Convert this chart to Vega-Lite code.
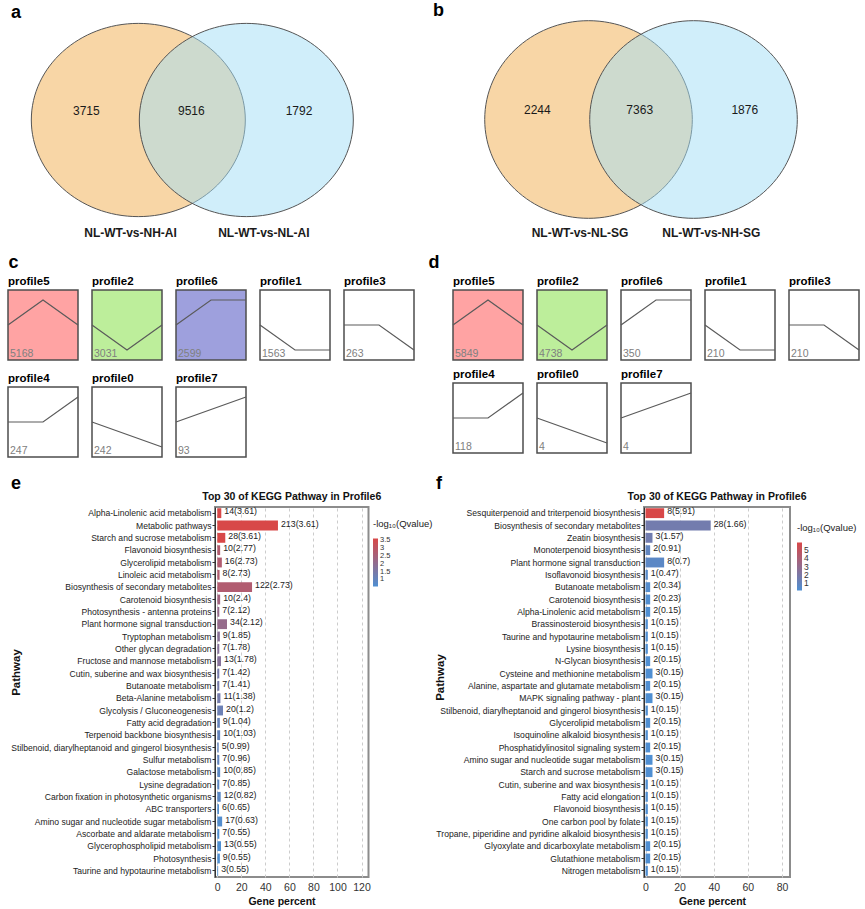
{
"$schema": "https://vega.github.io/schema/vega-lite/v6.json",
"padding": {"left": 5, "top": 1, "right": 0, "bottom": 0},
"background": "white",
"config": {"font": "Liberation Sans", "view": {"stroke": null}, "title": {"fontSize": 18, "fontWeight": "bold", "anchor": "start", "color": "#000000"}},
"resolve": {"scale": {"fill": "independent", "color": "independent"}},
"columns": 1,
"spacing": 16,
"concat": [
{"columns": 1, "spacing": 11, "resolve": {"scale": {"fill": "independent", "color": "independent"}},
 "concat": [
 {"spacing": 5, "resolve": {"scale": {"fill": "independent", "color": "independent"}},
  "hconcat": [
  {"title": {"text": "a", "dx": 3, "offset": -1},
   "width": 420, "height": 220,
   "data": {"values": [
    {"kind": "set", "g": "A", "x": 0, "y": 0},
    {"kind": "set", "g": "B", "x": 1, "y": 0},
    {"kind": "num", "x": -0.481, "y": 0.083, "t": "3715"},
    {"kind": "num", "x": 0.491, "y": 0.083, "t": "9516"},
    {"kind": "num", "x": 1.488, "y": 0.083, "t": "1792"},
    {"kind": "lab", "x": -0.072, "y": -1.046, "t": "NL-WT-vs-NH-AI"},
    {"kind": "lab", "x": 1.162, "y": -1.046, "t": "NL-WT-vs-NL-AI"}
   ]},
   "encoding": {
    "x": {"field": "x", "type": "quantitative", "scale": {"domain": [-1.2065, 2.682], "nice": false, "zero": false}, "axis": null},
    "y": {"field": "y", "type": "quantitative", "scale": {"domain": [-1.1296, 0.9074], "nice": false, "zero": false}, "axis": null}
   },
   "layer": [
    {"transform": [{"filter": "datum.kind === 'set'"}],
     "mark": {"type": "point", "shape": "M-1,0A1,0.903,0,1,1,1,0A1,0.903,0,1,1,-1,0Z", "size": 45796, "filled": true, "opacity": 1, "fillOpacity": 0.5, "stroke": "#555555", "strokeWidth": 1},
     "encoding": {"fill": {"field": "g", "type": "nominal", "scale": {"domain": ["A", "B"], "range": ["#f1ad4d", "#a1ddf5"]}, "legend": null}}},
    {"transform": [{"filter": "datum.kind === 'num'"}],
     "mark": {"type": "text", "fontSize": 12, "color": "#1a1a1a"},
     "encoding": {"text": {"field": "t", "type": "nominal"}}},
    {"transform": [{"filter": "datum.kind === 'lab'"}],
     "mark": {"type": "text", "fontSize": 12, "fontWeight": "bold", "color": "#1a1a1a"},
     "encoding": {"text": {"field": "t", "type": "nominal"}}}
   ]},
  {"title": {"text": "b", "dx": 0, "offset": -1},
   "width": 430, "height": 220,
   "data": {"values": [
    {"kind": "set", "g": "A", "x": 0, "y": 0},
    {"kind": "set", "g": "B", "x": 1, "y": 0},
    {"kind": "num", "x": -0.4876, "y": 0.0905, "t": "2244"},
    {"kind": "num", "x": 0.4876, "y": 0.0905, "t": "7363"},
    {"kind": "num", "x": 1.4876, "y": 0.0905, "t": "1876"},
    {"kind": "lab", "x": -0.081, "y": -1.079, "t": "NL-WT-vs-NL-SG"},
    {"kind": "lab", "x": 1.169, "y": -1.079, "t": "NL-WT-vs-NH-SG"}
   ]},
   "encoding": {
    "x": {"field": "x", "type": "quantitative", "scale": {"domain": [-1.481, 2.614], "nice": false, "zero": false}, "axis": null},
    "y": {"field": "y", "type": "quantitative", "scale": {"domain": [-1.1667, 0.9286], "nice": false, "zero": false}, "axis": null}
   },
   "layer": [
    {"transform": [{"filter": "datum.kind === 'set'"}],
     "mark": {"type": "point", "shape": "M-1,0A1,0.952,0,1,1,1,0A1,0.952,0,1,1,-1,0Z", "size": 43098, "filled": true, "opacity": 1, "fillOpacity": 0.5, "stroke": "#555555", "strokeWidth": 1},
     "encoding": {"fill": {"field": "g", "type": "nominal", "scale": {"domain": ["A", "B"], "range": ["#f1ad4d", "#a1ddf5"]}, "legend": null}}},
    {"transform": [{"filter": "datum.kind === 'num'"}],
     "mark": {"type": "text", "fontSize": 12, "color": "#1a1a1a"},
     "encoding": {"text": {"field": "t", "type": "nominal"}}},
    {"transform": [{"filter": "datum.kind === 'lab'"}],
     "mark": {"type": "text", "fontSize": 12, "fontWeight": "bold", "color": "#1a1a1a"},
     "encoding": {"text": {"field": "t", "type": "nominal"}}}
   ]}
  ]},
 {"spacing": 11, "resolve": {"scale": {"fill": "independent", "color": "independent"}},
  "hconcat": [
  {"title": {"text": "c", "dx": 3, "offset": 4},
   "data": {"values": [
    {"p": "profile5", "t": 0, "v": 0, "n": "5168", "r": 1}, {"p": "profile5", "t": 1, "v": 1, "n": "5168", "r": 1}, {"p": "profile5", "t": 2, "v": 0, "n": "5168", "r": 1},
    {"p": "profile2", "t": 0, "v": 0, "n": "3031", "r": 2}, {"p": "profile2", "t": 1, "v": -1, "n": "3031", "r": 2}, {"p": "profile2", "t": 2, "v": 0, "n": "3031", "r": 2},
    {"p": "profile6", "t": 0, "v": 0, "n": "2599", "r": 3}, {"p": "profile6", "t": 1, "v": 1, "n": "2599", "r": 3}, {"p": "profile6", "t": 2, "v": 1, "n": "2599", "r": 3},
    {"p": "profile1", "t": 0, "v": 0, "n": "1563", "r": 0}, {"p": "profile1", "t": 1, "v": -1, "n": "1563", "r": 0}, {"p": "profile1", "t": 2, "v": -1, "n": "1563", "r": 0},
    {"p": "profile3", "t": 0, "v": 0, "n": "263", "r": 0}, {"p": "profile3", "t": 1, "v": 0, "n": "263", "r": 0}, {"p": "profile3", "t": 2, "v": -1, "n": "263", "r": 0},
    {"p": "profile4", "t": 0, "v": 0, "n": "247", "r": 0}, {"p": "profile4", "t": 1, "v": 0, "n": "247", "r": 0}, {"p": "profile4", "t": 2, "v": 1, "n": "247", "r": 0},
    {"p": "profile0", "t": 0, "v": 0, "n": "242", "r": 0}, {"p": "profile0", "t": 1, "v": -0.5, "n": "242", "r": 0}, {"p": "profile0", "t": 2, "v": -1, "n": "242", "r": 0},
    {"p": "profile7", "t": 0, "v": 0, "n": "93", "r": 0}, {"p": "profile7", "t": 1, "v": 0.5, "n": "93", "r": 0}, {"p": "profile7", "t": 2, "v": 1, "n": "93", "r": 0}
   ]},
   "facet": {"field": "p", "type": "nominal", "title": null, "sort": ["profile5", "profile2", "profile6", "profile1", "profile3", "profile4", "profile0", "profile7"],
    "header": {"labelAnchor": "start", "labelFontSize": 11.5, "labelFontWeight": "bold", "labelColor": "#000000", "labelPadding": 2}},
   "columns": 5,
   "spacing": {"row": 11, "column": 8},
   "spec": {
    "width": 70, "height": 70,
    "layer": [
     {"transform": [{"filter": "datum.t === 0"}],
      "mark": {"type": "rect", "stroke": "#4d4d4d", "strokeWidth": 1.5},
      "encoding": {
       "x": {"datum": 0, "type": "quantitative", "scale": {"domain": [0, 2], "nice": false, "zero": false}, "axis": null},
       "x2": {"datum": 2},
       "y": {"datum": -1.4, "type": "quantitative", "scale": {"domain": [-1.4, 1.4], "nice": false, "zero": false}, "axis": null},
       "y2": {"datum": 1.4},
       "fill": {"field": "r", "type": "nominal", "scale": {"domain": [0, 1, 2, 3], "range": ["#ffffff", "#ffa3a3", "#bdee9b", "#9ea0dd"]}, "legend": null}}},
     {"mark": {"type": "line", "color": "#5a5a5a", "strokeWidth": 1.2},
      "encoding": {"x": {"field": "t", "type": "quantitative", "axis": null}, "y": {"field": "v", "type": "quantitative", "axis": null}}},
     {"transform": [{"filter": "datum.t === 0"}],
      "mark": {"type": "text", "align": "left", "baseline": "bottom", "dx": 2, "dy": -1, "fontSize": 10.5, "color": "#808080"},
      "encoding": {"x": {"datum": 0, "type": "quantitative"}, "y": {"datum": -1.4, "type": "quantitative"}, "text": {"field": "n", "type": "nominal"}}}
    ]}},
  {"title": {"text": "d", "dx": -22, "offset": 4},
   "data": {"values": [
    {"p": "profile5", "t": 0, "v": 0, "n": "5849", "r": 1}, {"p": "profile5", "t": 1, "v": 1, "n": "5849", "r": 1}, {"p": "profile5", "t": 2, "v": 0, "n": "5849", "r": 1},
    {"p": "profile2", "t": 0, "v": 0, "n": "4738", "r": 2}, {"p": "profile2", "t": 1, "v": -1, "n": "4738", "r": 2}, {"p": "profile2", "t": 2, "v": 0, "n": "4738", "r": 2},
    {"p": "profile6", "t": 0, "v": 0, "n": "350", "r": 0}, {"p": "profile6", "t": 1, "v": 1, "n": "350", "r": 0}, {"p": "profile6", "t": 2, "v": 1, "n": "350", "r": 0},
    {"p": "profile1", "t": 0, "v": 0, "n": "210", "r": 0}, {"p": "profile1", "t": 1, "v": -1, "n": "210", "r": 0}, {"p": "profile1", "t": 2, "v": -1, "n": "210", "r": 0},
    {"p": "profile3", "t": 0, "v": 0, "n": "210", "r": 0}, {"p": "profile3", "t": 1, "v": 0, "n": "210", "r": 0}, {"p": "profile3", "t": 2, "v": -1, "n": "210", "r": 0},
    {"p": "profile4", "t": 0, "v": 0, "n": "118", "r": 0}, {"p": "profile4", "t": 1, "v": 0, "n": "118", "r": 0}, {"p": "profile4", "t": 2, "v": 1, "n": "118", "r": 0},
    {"p": "profile0", "t": 0, "v": 0, "n": "4", "r": 0}, {"p": "profile0", "t": 1, "v": -0.5, "n": "4", "r": 0}, {"p": "profile0", "t": 2, "v": -1, "n": "4", "r": 0},
    {"p": "profile7", "t": 0, "v": 0, "n": "4", "r": 0}, {"p": "profile7", "t": 1, "v": 0.5, "n": "4", "r": 0}, {"p": "profile7", "t": 2, "v": 1, "n": "4", "r": 0}
   ]},
   "facet": {"field": "p", "type": "nominal", "title": null, "sort": ["profile5", "profile2", "profile6", "profile1", "profile3", "profile4", "profile0", "profile7"],
    "header": {"labelAnchor": "start", "labelFontSize": 11.5, "labelFontWeight": "bold", "labelColor": "#000000", "labelPadding": 2}},
   "columns": 5,
   "spacing": {"row": 7, "column": 8},
   "spec": {
    "width": 70, "height": 70,
    "layer": [
     {"transform": [{"filter": "datum.t === 0"}],
      "mark": {"type": "rect", "stroke": "#4d4d4d", "strokeWidth": 1.5},
      "encoding": {
       "x": {"datum": 0, "type": "quantitative", "scale": {"domain": [0, 2], "nice": false, "zero": false}, "axis": null},
       "x2": {"datum": 2},
       "y": {"datum": -1.4, "type": "quantitative", "scale": {"domain": [-1.4, 1.4], "nice": false, "zero": false}, "axis": null},
       "y2": {"datum": 1.4},
       "fill": {"field": "r", "type": "nominal", "scale": {"domain": [0, 1, 2, 3], "range": ["#ffffff", "#ffa3a3", "#bdee9b", "#9ea0dd"]}, "legend": null}}},
     {"mark": {"type": "line", "color": "#5a5a5a", "strokeWidth": 1.2},
      "encoding": {"x": {"field": "t", "type": "quantitative", "axis": null}, "y": {"field": "v", "type": "quantitative", "axis": null}}},
     {"transform": [{"filter": "datum.t === 0"}],
      "mark": {"type": "text", "align": "left", "baseline": "bottom", "dx": 2, "dy": -1, "fontSize": 10.5, "color": "#808080"},
      "encoding": {"x": {"datum": 0, "type": "quantitative"}, "y": {"datum": -1.4, "type": "quantitative"}, "text": {"field": "n", "type": "nominal"}}}
    ]}}
  ]}
 ]},
{"spacing": 0, "resolve": {"scale": {"fill": "independent", "color": "independent"}},
 "hconcat": [
 {"width": 1, "height": 1, "data": {"values": [{"z": 0}]}, "mark": {"type": "point", "size": 0, "opacity": 0}, "encoding": {}},
 {"title": {"text": "e", "dx": 2, "offset": -2},
  "vconcat": [
  {"title": {"text": "Top 30 of KEGG Pathway in Profile6", "fontSize": 10.5, "fontWeight": "bold", "anchor": "middle", "frame": "group", "offset": 5, "color": "#111111"},
   "width": 153.5, "height": 370,
   "view": {"stroke": "#8c8c8c", "strokeWidth": 2},
   "data": {"values": [
    {"pathway": "Alpha-Linolenic acid metabolism", "pct": 3.32, "q": 3.61, "lab": "14(3.61)"},
    {"pathway": "Metabolic pathways", "pct": 50.47, "q": 3.61, "lab": "213(3.61)"},
    {"pathway": "Starch and sucrose metabolism", "pct": 6.64, "q": 3.61, "lab": "28(3.61)"},
    {"pathway": "Flavonoid biosynthesis", "pct": 2.37, "q": 2.77, "lab": "10(2.77)"},
    {"pathway": "Glycerolipid metabolism", "pct": 3.79, "q": 2.73, "lab": "16(2.73)"},
    {"pathway": "Linoleic acid metabolism", "pct": 1.9, "q": 2.73, "lab": "8(2.73)"},
    {"pathway": "Biosynthesis of secondary metabolites", "pct": 28.91, "q": 2.73, "lab": "122(2.73)"},
    {"pathway": "Carotenoid biosynthesis", "pct": 2.37, "q": 2.4, "lab": "10(2.4)"},
    {"pathway": "Photosynthesis - antenna proteins", "pct": 1.66, "q": 2.12, "lab": "7(2.12)"},
    {"pathway": "Plant hormone signal transduction", "pct": 8.06, "q": 2.12, "lab": "34(2.12)"},
    {"pathway": "Tryptophan metabolism", "pct": 2.13, "q": 1.85, "lab": "9(1.85)"},
    {"pathway": "Other glycan degradation", "pct": 1.66, "q": 1.78, "lab": "7(1.78)"},
    {"pathway": "Fructose and mannose metabolism", "pct": 3.08, "q": 1.78, "lab": "13(1.78)"},
    {"pathway": "Cutin, suberine and wax biosynthesis", "pct": 1.66, "q": 1.42, "lab": "7(1.42)"},
    {"pathway": "Butanoate metabolism", "pct": 1.66, "q": 1.41, "lab": "7(1.41)"},
    {"pathway": "Beta-Alanine metabolism", "pct": 2.61, "q": 1.38, "lab": "11(1.38)"},
    {"pathway": "Glycolysis / Gluconeogenesis", "pct": 4.74, "q": 1.2, "lab": "20(1.2)"},
    {"pathway": "Fatty acid degradation", "pct": 2.13, "q": 1.04, "lab": "9(1.04)"},
    {"pathway": "Terpenoid backbone biosynthesis", "pct": 2.37, "q": 1.03, "lab": "10(1.03)"},
    {"pathway": "Stilbenoid, diarylheptanoid and gingerol biosynthesis", "pct": 1.18, "q": 0.99, "lab": "5(0.99)"},
    {"pathway": "Sulfur metabolism", "pct": 1.66, "q": 0.96, "lab": "7(0.96)"},
    {"pathway": "Galactose metabolism", "pct": 2.37, "q": 0.85, "lab": "10(0.85)"},
    {"pathway": "Lysine degradation", "pct": 1.66, "q": 0.85, "lab": "7(0.85)"},
    {"pathway": "Carbon fixation in photosynthetic organisms", "pct": 2.84, "q": 0.82, "lab": "12(0.82)"},
    {"pathway": "ABC transporters", "pct": 1.42, "q": 0.65, "lab": "6(0.65)"},
    {"pathway": "Amino sugar and nucleotide sugar metabolism", "pct": 4.03, "q": 0.63, "lab": "17(0.63)"},
    {"pathway": "Ascorbate and aldarate metabolism", "pct": 1.66, "q": 0.55, "lab": "7(0.55)"},
    {"pathway": "Glycerophospholipid metabolism", "pct": 3.08, "q": 0.55, "lab": "13(0.55)"},
    {"pathway": "Photosynthesis", "pct": 2.13, "q": 0.55, "lab": "9(0.55)"},
    {"pathway": "Taurine and hypotaurine metabolism", "pct": 0.71, "q": 0.55, "lab": "3(0.55)"}
   ]},
   "encoding": {
    "y": {"field": "pathway", "type": "nominal", "sort": null, "scale": {"paddingInner": 0.2, "paddingOuter": 0.1},
     "axis": {"title": "Pathway", "labelFontSize": 8.6, "labelColor": "#222222", "labelLimit": 400, "labelPadding": 1, "tickSize": 3, "tickColor": "#333333", "domainColor": "#333333", "titleFontSize": 11.5, "titleFontWeight": "bold", "titleColor": "#111111", "titleAngle": 270, "titleX": -199, "titleY": 165, "titleAlign": "center", "titleBaseline": "middle"}},
    "x": {"field": "pct", "type": "quantitative", "scale": {"domain": [-1.91, 125.8], "nice": false, "zero": false},
     "axis": {"values": [0, 20, 40, 60, 80, 100, 120], "title": "Gene percent", "grid": true, "gridDash": [3, 3], "gridColor": "#cccccc", "domain": false, "ticks": false, "labelFontSize": 10.5, "labelColor": "#333333", "labelPadding": 5, "titleFontSize": 10.5, "titleFontWeight": "bold", "titleColor": "#111111", "titleX": 66.5, "titleY": 24, "titleBaseline": "middle"}}
   },
   "layer": [
    {"mark": {"type": "bar"},
     "encoding": {"color": {"field": "q", "type": "quantitative", "scale": {"range": ["#4f8fd2", "#d84848"], "interpolate": "rgb"},
      "legend": {"title": "-log₁₀(Qvalue)", "orient": "none", "legendX": 158, "legendY": 12, "direction": "vertical", "gradientLength": 48, "gradientThickness": 5, "gradientStrokeWidth": 0, "values": [1, 1.5, 2, 2.5, 3, 3.5], "format": ".2~f", "labelFontSize": 7.5, "labelOverlap": false, "labelColor": "#333333", "titleFontSize": 9.5, "titleFontWeight": "normal", "titleColor": "#222222", "titlePadding": 10}}}},
    {"mark": {"type": "text", "align": "left", "baseline": "middle", "dx": 3, "dy": -2, "fontSize": 8.8, "color": "#222222"},
     "encoding": {"text": {"field": "lab", "type": "nominal"}}}
   ]}
  ]},
 {"title": {"text": "f", "dx": 3, "offset": -2},
  "vconcat": [
  {"title": {"text": "Top 30 of KEGG Pathway in Profile6", "fontSize": 10.5, "fontWeight": "bold", "anchor": "middle", "frame": "group", "offset": 5, "color": "#111111"},
   "width": 146, "height": 370,
   "view": {"stroke": "#8c8c8c", "strokeWidth": 2},
   "data": {"values": [
    {"pathway": "Sesquiterpenoid and triterpenoid biosynthesis", "pct": 10.92, "q": 5.91, "lab": "8(5.91)"},
    {"pathway": "Biosynthesis of secondary metabolites", "pct": 38.22, "q": 1.66, "lab": "28(1.66)"},
    {"pathway": "Zeatin biosynthesis", "pct": 4.1, "q": 1.57, "lab": "3(1.57)"},
    {"pathway": "Monoterpenoid biosynthesis", "pct": 2.73, "q": 0.91, "lab": "2(0.91)"},
    {"pathway": "Plant hormone signal transduction", "pct": 10.92, "q": 0.7, "lab": "8(0.7)"},
    {"pathway": "Isoflavonoid biosynthesis", "pct": 1.37, "q": 0.47, "lab": "1(0.47)"},
    {"pathway": "Butanoate metabolism", "pct": 2.73, "q": 0.34, "lab": "2(0.34)"},
    {"pathway": "Carotenoid biosynthesis", "pct": 2.73, "q": 0.23, "lab": "2(0.23)"},
    {"pathway": "Alpha-Linolenic acid metabolism", "pct": 2.73, "q": 0.15, "lab": "2(0.15)"},
    {"pathway": "Brassinosteroid biosynthesis", "pct": 1.37, "q": 0.15, "lab": "1(0.15)"},
    {"pathway": "Taurine and hypotaurine metabolism", "pct": 1.37, "q": 0.15, "lab": "1(0.15)"},
    {"pathway": "Lysine biosynthesis", "pct": 1.37, "q": 0.15, "lab": "1(0.15)"},
    {"pathway": "N-Glycan biosynthesis", "pct": 2.73, "q": 0.15, "lab": "2(0.15)"},
    {"pathway": "Cysteine and methionine metabolism", "pct": 4.1, "q": 0.15, "lab": "3(0.15)"},
    {"pathway": "Alanine, aspartate and glutamate metabolism", "pct": 2.73, "q": 0.15, "lab": "2(0.15)"},
    {"pathway": "MAPK signaling pathway - plant", "pct": 4.1, "q": 0.15, "lab": "3(0.15)"},
    {"pathway": "Stilbenoid, diarylheptanoid and gingerol biosynthesis", "pct": 1.37, "q": 0.15, "lab": "1(0.15)"},
    {"pathway": "Glycerolipid metabolism", "pct": 2.73, "q": 0.15, "lab": "2(0.15)"},
    {"pathway": "Isoquinoline alkaloid biosynthesis", "pct": 1.37, "q": 0.15, "lab": "1(0.15)"},
    {"pathway": "Phosphatidylinositol signaling system", "pct": 2.73, "q": 0.15, "lab": "2(0.15)"},
    {"pathway": "Amino sugar and nucleotide sugar metabolism", "pct": 4.1, "q": 0.15, "lab": "3(0.15)"},
    {"pathway": "Starch and sucrose metabolism", "pct": 4.1, "q": 0.15, "lab": "3(0.15)"},
    {"pathway": "Cutin, suberine and wax biosynthesis", "pct": 1.37, "q": 0.15, "lab": "1(0.15)"},
    {"pathway": "Fatty acid elongation", "pct": 1.37, "q": 0.15, "lab": "1(0.15)"},
    {"pathway": "Flavonoid biosynthesis", "pct": 1.37, "q": 0.15, "lab": "1(0.15)"},
    {"pathway": "One carbon pool by folate", "pct": 1.37, "q": 0.15, "lab": "1(0.15)"},
    {"pathway": "Tropane, piperidine and pyridine alkaloid biosynthesis", "pct": 1.37, "q": 0.15, "lab": "1(0.15)"},
    {"pathway": "Glyoxylate and dicarboxylate metabolism", "pct": 2.73, "q": 0.15, "lab": "2(0.15)"},
    {"pathway": "Glutathione metabolism", "pct": 2.73, "q": 0.15, "lab": "2(0.15)"},
    {"pathway": "Nitrogen metabolism", "pct": 1.37, "q": 0.15, "lab": "1(0.15)"}
   ]},
   "encoding": {
    "y": {"field": "pathway", "type": "nominal", "sort": null, "scale": {"paddingInner": 0.2, "paddingOuter": 0.1},
     "axis": {"title": "Pathway", "labelFontSize": 8.6, "labelColor": "#222222", "labelLimit": 400, "labelPadding": 1, "tickSize": 3, "tickColor": "#333333", "domainColor": "#333333", "titleFontSize": 11.5, "titleFontWeight": "bold", "titleColor": "#111111", "titleAngle": 270, "titleX": -204, "titleY": 170, "titleAlign": "center", "titleBaseline": "middle"}},
    "x": {"field": "pct", "type": "quantitative", "scale": {"domain": [-0.88, 84.7], "nice": false, "zero": false},
     "axis": {"values": [0, 20, 40, 60, 80], "title": "Gene percent", "grid": true, "gridDash": [3, 3], "gridColor": "#cccccc", "domain": false, "ticks": false, "labelFontSize": 10.5, "labelColor": "#333333", "labelPadding": 5, "titleFontSize": 10.5, "titleFontWeight": "bold", "titleColor": "#111111", "titleX": 68, "titleY": 24, "titleBaseline": "middle"}}
   },
   "layer": [
    {"mark": {"type": "bar"},
     "encoding": {"color": {"field": "q", "type": "quantitative", "scale": {"range": ["#4f8fd2", "#d84848"], "interpolate": "rgb"},
      "legend": {"title": "-log₁₀(Qvalue)", "orient": "none", "legendX": 153, "legendY": 16, "direction": "vertical", "gradientLength": 48, "gradientThickness": 5, "gradientStrokeWidth": 0, "values": [1, 2, 3, 4, 5], "format": "~g", "labelFontSize": 8.5, "labelOverlap": false, "labelColor": "#333333", "titleFontSize": 9.5, "titleFontWeight": "normal", "titleColor": "#222222", "titlePadding": 10}}}},
    {"mark": {"type": "text", "align": "left", "baseline": "middle", "dx": 3, "dy": -2, "fontSize": 8.8, "color": "#222222"},
     "encoding": {"text": {"field": "lab", "type": "nominal"}}}
   ]}
  ]}
 ]}
]
}
